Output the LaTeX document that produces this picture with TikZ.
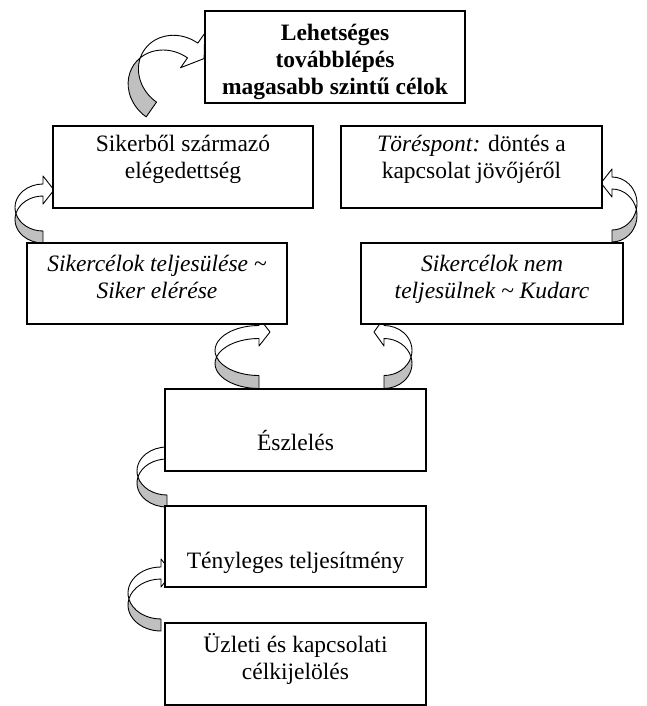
\documentclass[tikz,border=0pt]{standalone}
\usepackage{fontspec}
\setmainfont{Liberation Serif}
\definecolor{backgray}{RGB}{192,192,192}
\tikzset{
  arrowedge/.style={draw=black, line width=0.9pt, line join=round},
  pics/carrow/.style n args={5}{code={
    \pgfmathsetmacro\crA{#1}\pgfmathsetmacro\crB{#2}\pgfmathsetmacro\crS{#3}%
    \pgfmathsetmacro\crL{#4}\pgfmathsetmacro\crH{#5}%
    \pgfmathsetmacro\crAl{asin(\crS/(2*\crB))}%
    \pgfmathsetmacro\crX{-\crA*cos(\crAl)}%
    \draw[arrowedge, fill=backgray] (\crX,0)
      arc[start angle={180-\crAl}, end angle=270, x radius=\crA, y radius=\crB]
      -- (0,{\crS/2-\crB})
      arc[start angle=270, end angle={180+\crAl}, x radius=\crA, y radius=\crB] -- cycle;
    \draw[arrowedge, fill=white] (\crX,0)
      arc[start angle={180+\crAl}, end angle=90, x radius=\crA, y radius=\crB]
      -- (0,{\crB+\crH}) -- (\crL,\crB) -- (0,{\crB-\crH}) -- (0,{\crB-\crS/2})
      arc[start angle=90, end angle={180-\crAl}, x radius=\crA, y radius=\crB] -- cycle;
  }}
}
\begin{document}
\begin{tikzpicture}[x=1pt,y=1pt,
  box/.style={draw=black, line width=1.2pt, fill=white, inner sep=0pt},
  txt/.style={inner sep=0pt, align=center, font=\fontsize{23.5}{27}\selectfont}]
\useasboundingbox (0,0) rectangle (646,-706);

% curved block arrows
\begin{scope}[shift={(172,-80)},rotate=-35] \pic[transform shape] {carrow={40}{36}{18}{14}{21}}; \end{scope}
\begin{scope}[shift={(43,-213.5)}] \pic[transform shape] {carrow={28}{23.5}{12}{11}{14}}; \end{scope}
\begin{scope}[shift={(612,-209.5)},xscale=-1] \pic[transform shape] {carrow={25}{26.5}{12}{11}{14}}; \end{scope}
\begin{scope}[shift={(259,-357)}] \pic[transform shape] {carrow={44}{25}{13}{11}{14}}; \end{scope}
\begin{scope}[shift={(384,-357)},xscale=-1] \pic[transform shape] {carrow={28}{25}{13}{10}{14}}; \end{scope}
\begin{scope}[shift={(167,-477)}] \pic[transform shape] {carrow={30}{24}{12}{11}{14}}; \end{scope}
\begin{scope}[shift={(161,-599)}] \pic[transform shape] {carrow={33}{26}{12}{11}{14}}; \end{scope}

% boxes
\node[box, minimum width=260pt, minimum height=92pt] (top) at (335,-57) {};
\node[box, minimum width=260pt, minimum height=82pt] (sat) at (183,-167) {};
\node[box, minimum width=261pt, minimum height=82pt] (brk) at (471.5,-167) {};
\node[box, minimum width=260pt, minimum height=81pt] (succ) at (157,-283.5) {};
\node[box, minimum width=262pt, minimum height=81pt] (fail) at (492,-283.5) {};
\node[box, minimum width=261pt, minimum height=82pt] (perc) at (295.5,-430) {};
\node[box, minimum width=261pt, minimum height=81pt] (perf) at (295.5,-546.5) {};
\node[box, minimum width=261pt, minimum height=82pt] (goal) at (295.5,-664) {};

% texts
\node[txt, font={\fontsize{23.5}{27}\selectfont\bfseries}] (ttop) at (335,-62)
  {\strut Lehetséges\\ továbblépés\\ magasabb szintű célok\strut};
\node[txt] (tsat) at (183,-160) {\strut Sikerből származó\\ elégedettség\strut};
\node[txt] (tbrk) at (471.5,-160) {\strut\textit{Töréspont:} döntés a\\ kapcsolat jövőjéről\strut};
\node[txt, font={\fontsize{23.5}{27}\selectfont\itshape}] (tsucc) at (157,-280)
  {\strut Sikercélok teljesülése \textasciitilde\\ Siker elérése\strut};
\node[txt, font={\fontsize{23.5}{27}\selectfont\itshape}] (tfail) at (492,-280)
  {\strut Sikercélok nem\\ teljesülnek \textasciitilde{} Kudarc\strut};
\node[txt] (tperc) at (295.5,-444) {\strut Észlelés};
\node[txt] (tperf) at (295.5,-563.5) {\strut Tényleges teljesítmény};
\node[txt] (tgoal) at (295.5,-661) {\strut Üzleti és kapcsolati\\ célkijelölés\strut};
\end{tikzpicture}
\end{document}
